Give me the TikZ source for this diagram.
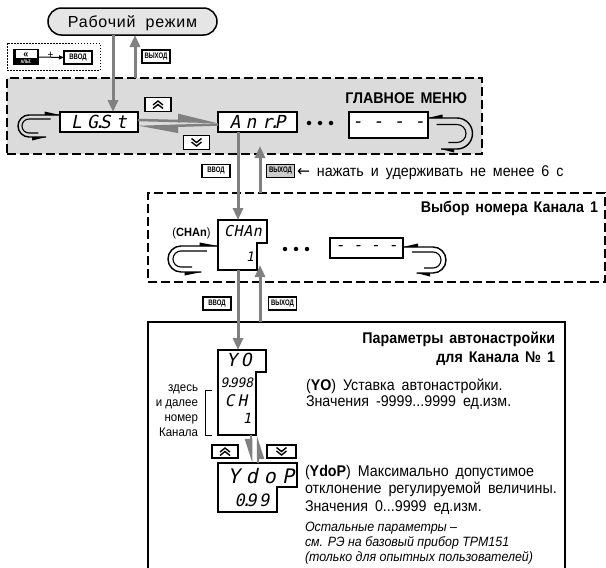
\documentclass[tikz,border=0pt]{standalone}
\usepackage{fontspec}
\setmainfont{Liberation Sans}[FakeStretch=0.92]
\newfontfamily\pillfont{Liberation Sans}[LetterSpace=5]
\newfontfamily\keyfont{Liberation Sans}[FakeStretch=0.75]
\newfontfamily\segfont{DejaVu Sans Mono}[FakeSlant=0.2]
\newfontfamily\symfont{DejaVu Sans}
\usetikzlibrary{arrows.meta,shapes.misc,calc}
\definecolor{menugray}{gray}{0.86}
\definecolor{pillgray}{gray}{0.9}
\definecolor{arrgray}{gray}{0.5}
\definecolor{btngray}{gray}{0.8}
\newcommand\sdot{\kern-0.2em.\kern-0.3em}
\newcommand\segs[2]{\segfont\fontsize{#1}{#1}\selectfont\addfontfeature{LetterSpace=#2}}
\newcommand\wspill{\spaceskip 10pt\relax}
\newcommand\wsbody{\spaceskip 7pt\relax}
\newcommand\wsttl{\spaceskip 6pt\relax}
\newcommand\loopy[7]{% x, y, dir, L, R, r, offset
 \begin{scope}[shift={(#1,#2)}, xscale=#3]
  \draw[line width=1.4pt] (0,0) -- (-#4,0) arc(270:90:#5) -- ({-0.45*#4},{2*#5});
  \draw[line width=1.1pt] ({-0.3*#4},#7) -- (-#4,#7) arc(270:90:#6) -- ({-0.7*#4},{#7+2*#6});
  \fill (0,0) -- ({-0.5*#4},-3.5) -- ({-0.5*#4},0) -- cycle;
  \fill ({-0.45*#4},{2*#5}) -- ({-0.9*#4},{2*#5+3.5}) -- ({-0.9*#4},{2*#5}) -- cycle;
 \end{scope}}
\tikzset{
 dblup/.pic={\draw[line width=1.4pt] (-5,0.5)--(0,-3.5)--(5,0.5) (-5,4)--(0,0)--(5,4);},
 dbldown/.pic={\draw[line width=1.4pt] (-5,-0.5)--(0,3.5)--(5,-0.5) (-5,-4)--(0,0)--(5,-4);}
}
\begin{document}
\begin{tikzpicture}[x=1pt,y=-1pt,
 every node/.style={inner sep=0pt, outer sep=0pt},
 garr/.style={draw=arrgray, line width=3pt, -{Triangle[length=12pt,width=10pt]}},
 harpr/.style={draw=arrgray, line width=2.5pt, -{Triangle[harpoon,length=34pt,width=14pt]}},
 harpd/.style={draw=arrgray, line width=2.5pt, -{Triangle[harpoon,swap,length=20pt,width=12pt]}},
 disp/.style={draw, line width=1.2pt, fill=white},
 keylbl/.style={draw, line width=1.2pt, fill=white, minimum width=28pt, minimum height=13pt, font=\keyfont\bfseries\fontsize{8}{8}\selectfont},
 navkey/.style={draw, line width=1.5pt, fill=white, minimum width=26pt, minimum height=14pt},
 dframe/.style={draw, line width=1.5pt, dash pattern=on 9pt off 4pt},
 bodytxt/.style={font=\fontsize{15.5}{17}\selectfont\wsbody, anchor=base west},
 ttl/.style={font=\bfseries\fontsize{15.5}{17}\selectfont\wsttl, anchor=base east},
 notetxt/.style={font=\itshape\fontsize{13.5}{15}\selectfont, anchor=base west},
 sidetxt/.style={font=\fontsize{12.5}{14}\selectfont, anchor=base east},
 dotc/.style={circle, fill, minimum size=4.5pt},
]
\clip (0,0) rectangle (606,568);
\fill[white] (0,0) rectangle (606,568);

% frames
\node[dframe, fill=menugray, minimum width=475pt, minimum height=76pt, anchor=north west] (menu) at (7,78) {};
\node[dframe, minimum width=457pt, minimum height=89pt, anchor=north west] (vyb) at (148,193) {};
\node[draw, line width=1.5pt, minimum width=417pt, minimum height=270pt, anchor=north west] (params) at (148,322) {};

% top
\node[draw, line width=1.5pt, fill=pillgray, rounded rectangle, minimum width=169pt, minimum height=27pt, text height=11.5pt, text depth=0pt, font=\pillfont\fontsize{16}{16}\selectfont\wspill] (pill) at (132.5,21.5) {Рабочий режим};
\node[draw, line width=0.9pt, dash pattern=on 1.5pt off 1.5pt, minimum width=93pt, minimum height=27pt, anchor=north west] (combo) at (7,43) {};
\node[fill=black, minimum width=26pt, minimum height=16pt] (alt) at (26,57) {};
\node[fill=white, minimum width=21pt, minimum height=8pt, text height=6pt, text depth=0pt, font=\bfseries\fontsize{10}{10}\selectfont] (altw) at (26,54) {<<};
\node[text=white, font=\keyfont\bfseries\fontsize{5}{5}\selectfont] (altt) at (26,61.8) {АЛЬТ.};
\node[keylbl] (kv0) at (78,57.5) {ВВОД};
\draw[line width=1pt, -{Triangle[length=5pt,width=4pt]}] (alt.east) -- (kv0.west);
\node[font=\fontsize{11}{11}\selectfont] (plus) at (50.5,55.5) {+};
\node[keylbl] (kx0) at (156,56.5) {ВЫХОД};

% main menu
\node[ttl] (mtitle) at (467,103) {ГЛАВНОЕ МЕНЮ};
\node[disp, minimum width=78pt, minimum height=20pt, font=\segs{18}{30}] (lgst) at (99,122) {LG\sdot St};
\node[disp, minimum width=79pt, minimum height=20pt, font=\segs{18}{30}] (anrp) at (257.5,122) {Anr\sdot P};
\node[disp, minimum width=79pt, minimum height=26pt, font=\segs{18}{55}] (dash1) at (388.5,125) {----};
\node[dotc] (d1) at (309,123) {};
\node[dotc] (d2) at (320,123) {};
\node[dotc] (d3) at (331,123) {};
\node[navkey] (uk1) at (158,104.5) {};
\pic at (uk1.center) {dblup};
\node[navkey] (dk1) at (196.5,142.5) {};
\pic at (dk1.center) {dbldown};
\path (lgst.east) ++(0,-2) coordinate (h1s);
\path (anrp.west) ++(0,0) coordinate (h1e);
\path (anrp.west) ++(0,2.5) coordinate (h2s);
\path (lgst.east) ++(0,5) coordinate (h2e);
\draw[harpr] (h1s) -- (h1e);
\draw[harpr] (h2s) -- (h2e);
\loopy{60}{115}{1}{31}{11}{7}{4}
\loopy{428}{118}{-1}{29}{15.5}{9}{6.5}

% arrows top
\coordinate (xa) at (113,0);
\coordinate (xb) at (135,0);
\coordinate (xc) at (238,0);
\coordinate (xd) at (260,0);
\draw[garr] (pill.south -| xa) -- (lgst.north -| xa);
\draw[garr] (menu.north -| xb) -- (pill.south -| xb);

% between menu and selection
\node[keylbl] (kv1) at (216,171) {ВВОД};
\node[keylbl, fill=btngray] (kx1) at (280.5,171) {ВЫХОД};
\node[bodytxt] (hold) at (297,176) {{\symfont ←} нажать и удерживать не менее 6 с};

% selection box
\node[ttl] (vtitle) at (598,212) {Выбор номера Канала 1};
\node[font=\fontsize{12}{12}\selectfont] (chlbl) at (191.5,233) {(\textbf{CHAn})};
\draw[disp] (218,220) -- (267,220) -- (267,243) -- (257,243) -- (257,270) -- (218,270) -- cycle;
\coordinate (chtop) at (218,220);
\coordinate (chbot) at (218,270);
\node[font=\segs{15}{4}] (chtxt) at (243,231.5) {CHAn};
\node[font=\segs{13}{0}] (ch1) at (250,257) {1};
\node[dotc] (d4) at (285,249) {};
\node[dotc] (d5) at (296,249) {};
\node[dotc] (d6) at (307,249) {};
\node[disp, minimum width=73pt, minimum height=20pt, font=\segs{16}{50}] (dash2) at (366.5,248) {----};
\loopy{218}{246}{1}{37}{13}{8}{5}
\loopy{403}{247}{-1}{30}{13}{8}{5}

\coordinate (tip1) at (260,146);
\draw[garr] (anrp.south -| xc) -- (chtop -| xc);
\draw[garr] (vyb.north -| xd) -- (tip1 -| xd);

% between selection and params
\node[keylbl] (kv2) at (217,303.5) {ВВОД};
\node[keylbl] (kx2) at (282.5,303.5) {ВЫХОД};

% params box
\node[ttl] (ptitle1) at (555,343.5) {Параметры автонастройки};
\node[ttl] (ptitle2) at (555,362) {для Канала № 1};
\draw[disp] (218,350) -- (266,350) -- (266,372) -- (256,372) -- (256,435) -- (218,435) -- cycle;
\coordinate (yotop) at (218,350);
\coordinate (yobot) at (218,435);
\node[font=\segs{18}{20}] (yotxt) at (239,360) {YO};
\node[font=\segs{13}{0}] (yo2) at (237,383) {9\sdot 998};
\node[font=\segs{16}{20}] (yo3) at (236,401) {CH};
\node[font=\segs{14}{0}] (yo4) at (247,418) {1};
\draw[disp] (218,463) -- (297,463) -- (297,487) -- (277,487) -- (277,512) -- (218,512) -- cycle;
\coordinate (ydtop) at (218,463);
\node[font=\segs{20}{30}] (ydtxt) at (261,476) {YdoP};
\node[font=\segs{17}{15}] (yd2) at (252,500) {0\sdot 99};

\coordinate (tip2) at (260,265);
\draw[garr] (chbot -| xc) -- (yotop -| xc);
\draw[garr] (params.north -| xd) -- (tip2 -| xd);

\coordinate (xe) at (251,0);
\coordinate (xf) at (258,0);
\draw[harpd] (yobot -| xe) -- (ydtop -| xe);
\draw[harpd] (ydtop -| xf) -- (yobot -| xf);
\node[navkey, minimum height=13pt] (uk2) at (225,451.5) {};
\pic at (uk2.center) {dblup};
\node[navkey, minimum width=29pt, minimum height=13pt] (dk2) at (281.5,451.5) {};
\pic at (dk2.center) {dbldown};

% side labels
\node[sidetxt] (s1) at (198,391) {здесь};
\node[sidetxt] (s2) at (198,406) {и далее};
\node[sidetxt] (s3) at (198,421) {номер};
\node[sidetxt] (s4) at (198,436) {Канала};
\draw[line width=0.8pt] (212,390) -- (205,390) -- (205,435) -- (212,435);

% descriptions
\node[bodytxt] (t1) at (306,390) {(\textbf{YO}) Уставка автонастройки.};
\node[bodytxt] (t2) at (306,406) {Значения -9999...9999 ед.изм.};
\node[bodytxt] (t3) at (305,476) {(\textbf{YdoP}) Максимально допустимое};
\node[bodytxt] (t4) at (305,493) {отклонение регулируемой величины.};
\node[bodytxt] (t5) at (305,511) {Значения 0...9999 ед.изм.};
\node[notetxt] (n1) at (305,531) {Остальные параметры –};
\node[notetxt] (n2) at (305,546) {см. РЭ на базовый прибор ТРМ151};
\node[notetxt] (n3) at (305,561) {(только для опытных пользователей)};
\end{tikzpicture}
\end{document}
